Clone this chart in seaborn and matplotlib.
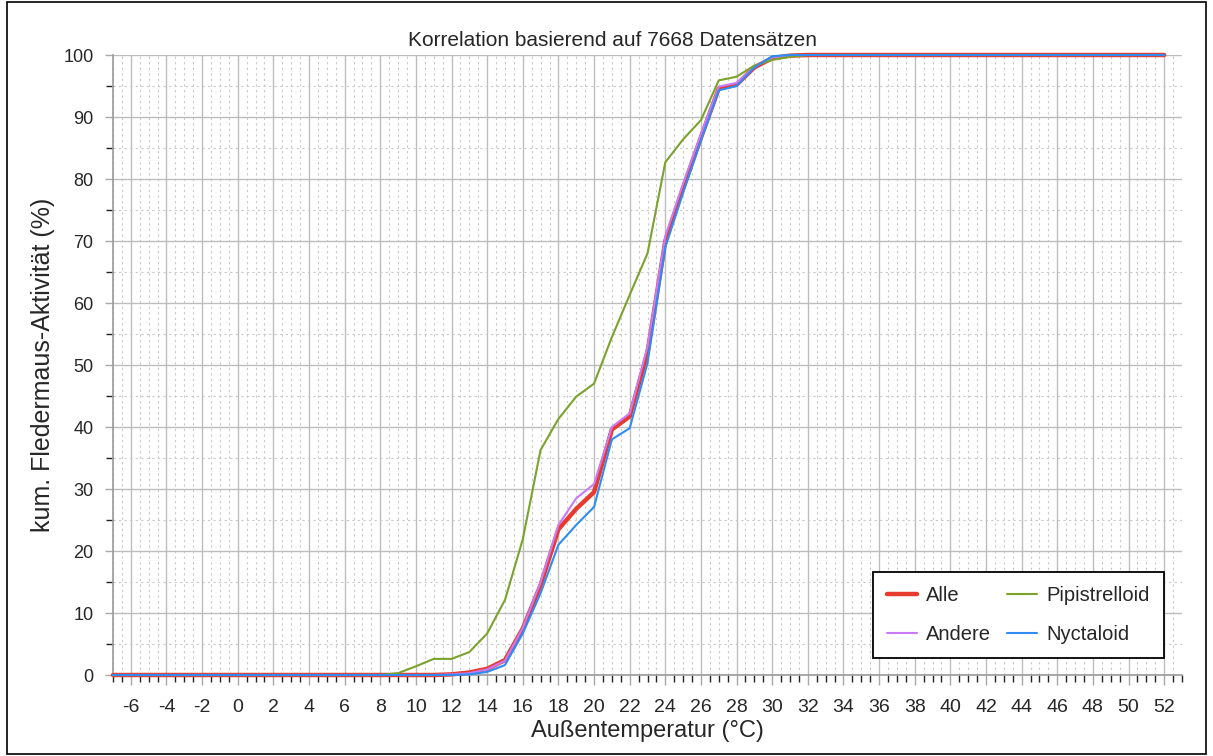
import numpy as np
import pandas as pd
import matplotlib
matplotlib.use("Agg")
import matplotlib.pyplot as plt
from matplotlib.ticker import MultipleLocator
from matplotlib.patches import Rectangle
import seaborn as sns

# -----------------------------
# Data (cumulative bat activity in % per outside temperature)
# -----------------------------
temps = [-7, -6, -5, -4, -3, -2, -1, 0, 1, 2, 3, 4, 5, 6, 7, 8, 9, 10, 11,
         12, 13, 14, 15, 16, 17, 18, 19, 20, 21, 22, 23, 24, 25, 26, 27, 28, 29, 30, 31,
         32, 33, 34, 35, 36, 37, 38, 39, 40, 41, 42, 43, 44, 45, 46, 47, 48, 49, 50, 51, 52]

alle = [0, 0, 0, 0, 0, 0, 0, 0, 0, 0, 0, 0, 0, 0, 0, 0, 0, 0, 0,
        0.1, 0.4, 1.0, 2.4, 7.5, 14.5, 23.5, 26.8, 29.5, 39.6, 41.7, 52.0, 70.0, 78.5, 86.7, 94.6, 95.2, 98.0, 99.5, 99.9,
        100, 100, 100, 100, 100, 100, 100, 100, 100, 100, 100, 100, 100, 100, 100, 100, 100, 100, 100, 100, 100]

andere = [0, 0, 0, 0, 0, 0, 0, 0, 0, 0, 0, 0, 0, 0, 0, 0, 0, 0, 0,
          0.1, 0.3, 0.9, 2.3, 7.6, 15.0, 24.2, 28.5, 30.8, 40.0, 42.2, 53.0, 70.8, 79.3, 87.3, 94.9, 95.5, 98.1, 99.6, 99.9,
          100, 100, 100, 100, 100, 100, 100, 100, 100, 100, 100, 100, 100, 100, 100, 100, 100, 100, 100, 100, 100]

pipistrelloid = [0, 0, 0, 0, 0, 0, 0, 0, 0, 0, 0, 0, 0, 0, 0, 0, 0.3, 1.4, 2.6,
                 2.6, 3.7, 6.7, 12.1, 21.9, 36.3, 41.3, 44.9, 47.0, 54.5, 61.3, 68.0, 82.7, 86.4, 89.5, 95.9, 96.5, 98.3, 99.2, 99.7,
                 100, 100, 100, 100, 100, 100, 100, 100, 100, 100, 100, 100, 100, 100, 100, 100, 100, 100, 100, 100, 100]

nyctaloid = [0, 0, 0, 0, 0, 0, 0, 0, 0, 0, 0, 0, 0, 0, 0, 0, 0, 0, 0,
             0.0, 0.1, 0.5, 1.6, 6.7, 13.2, 21.0, 24.2, 27.1, 38.0, 39.8, 50.3, 69.0, 77.8, 86.2, 94.3, 95.0, 98.0, 99.8, 100,
             100, 100, 100, 100, 100, 100, 100, 100, 100, 100, 100, 100, 100, 100, 100, 100, 100, 100, 100, 100, 100]

series_names = ["Alle", "Andere", "Pipistrelloid", "Nyctaloid"]
series_values = [alle, andere, pipistrelloid, nyctaloid]
colors = {"Alle": "#e63b2e", "Andere": "#c97af7", "Pipistrelloid": "#7ba32c", "Nyctaloid": "#2f8cf5"}
widths = {"Alle": 3.2, "Andere": 1.5, "Pipistrelloid": 1.5, "Nyctaloid": 1.5}

x_ticks = list(range(-6, 53, 2))
y_ticks = list(range(0, 101, 10))

# -----------------------------
# Plot
# -----------------------------
sns.set_style("white")
plt.rcParams['font.family'] = ['Liberation Sans', 'DejaVu Sans']
plt.rcParams['axes.unicode_minus'] = False

fig = plt.figure(figsize=(12.13, 7.56), dpi=100)
ax = fig.add_axes([113 / 1213, 1 - 675 / 756, (1182 - 113) / 1213, (675 - 55) / 756])

for name, vals in zip(series_names, series_values):
    df = pd.DataFrame({"temp": temps, "pct": vals})
    sns.lineplot(data=df, x="temp", y="pct", color=colors[name], linewidth=widths[name],
                 label=name, ax=ax, clip_on=False, zorder=3)

ax.set_xlim(-7, 53)
ax.set_ylim(0, 100)
ax.set_xticks(x_ticks)
ax.set_yticks(y_ticks)
ax.xaxis.set_minor_locator(MultipleLocator(0.5))
ax.yaxis.set_minor_locator(MultipleLocator(5))

ax.grid(which="major", color="#bdbdbd", linewidth=1.0, linestyle="-")
ax.grid(which="minor", color="#c8c8c8", linewidth=0.8, linestyle=(0, (2, 3)))
ax.set_axisbelow(True)

for side in ["top", "right"]:
    ax.spines[side].set_visible(False)
for side in ["left", "bottom"]:
    ax.spines[side].set_color("#9a9a9a")
    ax.spines[side].set_linewidth(1.2)

ax.tick_params(axis="x", which="major", direction="out", length=7, width=1, color="#a8a8a8",
               pad=10, labelsize=14, bottom=True)
ax.tick_params(axis="x", which="minor", direction="out", length=5, width=1, color="#222222", bottom=True)
ax.tick_params(axis="y", which="major", direction="out", length=6, width=1, color="#a8a8a8",
               pad=8, labelsize=13, left=True)
ax.tick_params(axis="y", which="minor", direction="out", length=5, width=1, color="#222222", left=True)

ax.set_xlabel("Außentemperatur (°C)", fontsize=17, labelpad=3)
ax.set_ylabel("kum. Fledermaus-Aktivität (%)", fontsize=18, labelpad=6)

fig.text(613 / 1213, 1 - 41 / 756, "Korrelation basierend auf 7668 Datensätzen",
         ha="center", va="center", fontsize=15)

leg = ax.legend(loc="lower right", bbox_to_anchor=(0.983, 0.0274), borderaxespad=0, ncol=2,
                fontsize=14.5, frameon=True, fancybox=False, handlelength=1.5, columnspacing=0.8,
                labelspacing=1.0, borderpad=0.7, handletextpad=0.45)
leg.get_frame().set_edgecolor("black")
leg.get_frame().set_linewidth(1.3)
leg.get_frame().set_alpha(1)

# thin black frame around the whole picture
fig.patches.append(Rectangle((7 / 1213, 2 / 756), 1 - 14 / 1213, 1 - 4 / 756,
                             transform=fig.transFigure, fill=False, edgecolor="black", linewidth=1.2))

plt.savefig("out.png", dpi=100)
